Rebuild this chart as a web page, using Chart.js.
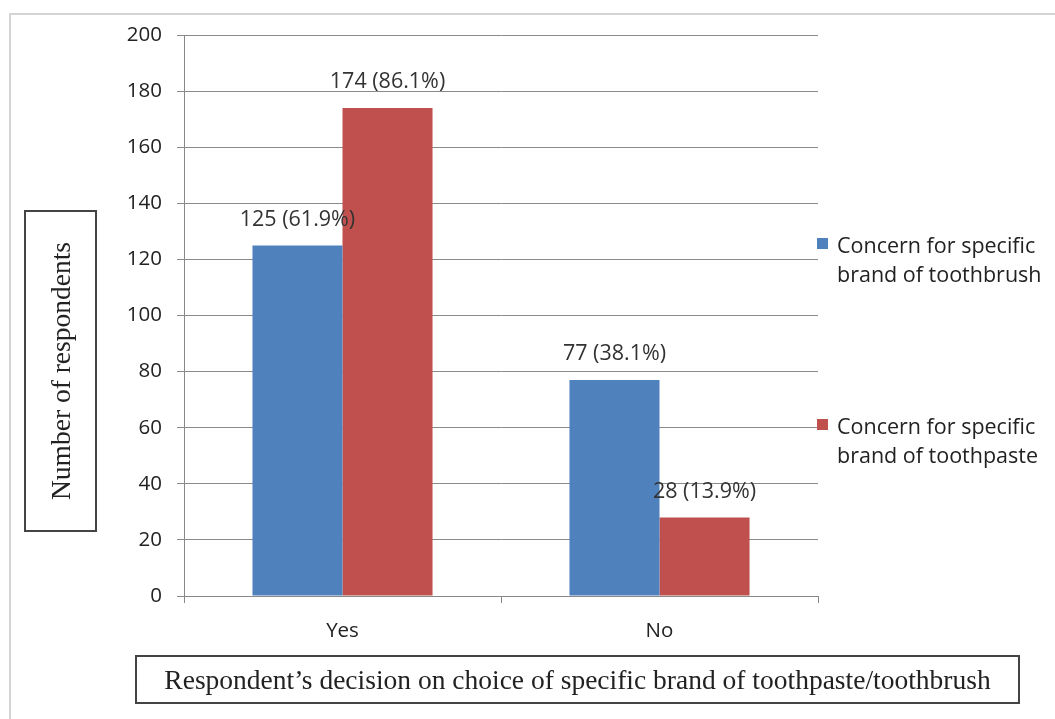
<!DOCTYPE html>
<html>
<head>
<meta charset="utf-8">
<script src="https://cdn.jsdelivr.net/npm/chart.js@4/dist/chart.umd.min.js"></script>
<style>
  html, body { margin: 0; padding: 0; background: #fff; }
  #wrap { position: relative; width: 1055px; height: 719px; overflow: hidden; }
  #frame { position: absolute; left: 9px; top: 13px; width: 1100px; height: 800px; border-left: 2px solid #d4d4d4; border-top: 2px solid #d4d4d4; box-sizing: border-box; }
  canvas { position: absolute; left: 0; top: 0; }
  .ybox { position: absolute; left: 24px; top: 210px; width: 73px; height: 322px; border: 2px solid #444; box-sizing: border-box; }
  .ybox span { position: absolute; left: 50%; top: 50%; transform: translate(-50%, -50%) rotate(-90deg); white-space: nowrap; font-family: "Liberation Serif", "DejaVu Serif", serif; font-size: 27.5px; color: #222; }
  .xbox { position: absolute; left: 135px; top: 655px; width: 885px; height: 49px; border: 2px solid #444; box-sizing: border-box; display: flex; align-items: center; justify-content: center; font-family: "Liberation Serif", "DejaVu Serif", serif; font-size: 27.5px; color: #222; }
  .leg { position: absolute; left: 817px; font-family: "Open Sans", "Liberation Sans", sans-serif; font-size: 21.5px; line-height: 29px; color: #222; white-space: nowrap; }
  .leg i { position: absolute; left: 0; top: 8px; width: 11px; height: 11px; }
  .leg div { margin-left: 20px; }
</style>
</head>
<body>
<div id="wrap">
  <div id="frame"></div>
  <canvas id="c" width="1055" height="719"></canvas>
  <div class="ybox"><span>Number of respondents</span></div>
  <div class="xbox">Respondent’s decision on choice of specific brand of toothpaste/toothbrush</div>
  <div class="leg" style="top:230px"><i style="background:#4F81BD"></i><div>Concern for specific<br>brand of toothbrush</div></div>
  <div class="leg" style="top:411px"><i style="background:#C0504D"></i><div>Concern for specific<br>brand of toothpaste</div></div>
</div>
<script>
const categories = ["Yes", "No"];
const toothbrushValues = [125, 77];
const toothpasteValues = [174, 28];
const toothbrushPct = ["61.9%", "38.1%"];
const toothpastePct = ["86.1%", "13.9%"];
const seriesNames = ["Concern for specific brand of toothbrush", "Concern for specific brand of toothpaste"];
const yTicks = [0, 20, 40, 60, 80, 100, 120, 140, 160, 180, 200];

const labelPlugin = {
  id: 'barLabels',
  afterDatasetsDraw(chart) {
    const ctx = chart.ctx;
    const pcts = [toothbrushPct, toothpastePct];
    ctx.save();
    ctx.font = '21.5px "Open Sans", "Liberation Sans", sans-serif';
    ctx.fillStyle = '#333';
    ctx.textAlign = 'center';
    ctx.textBaseline = 'middle';
    chart.data.datasets.forEach((ds, di) => {
      chart.getDatasetMeta(di).data.forEach((bar, i) => {
        ctx.fillText(ds.data[i] + ' (' + pcts[di][i] + ')', bar.x, bar.y - 26);
      });
    });
    ctx.restore();
  }
};

new Chart(document.getElementById('c'), {
  type: 'bar',
  data: {
    labels: categories,
    datasets: [
      { label: seriesNames[0], data: toothbrushValues, backgroundColor: '#4F81BD', barPercentage: 1, categoryPercentage: 0.568 },
      { label: seriesNames[1], data: toothpasteValues, backgroundColor: '#C0504D', barPercentage: 1, categoryPercentage: 0.568 }
    ]
  },
  options: {
    responsive: false,
    animation: false,
    devicePixelRatio: 1,
    layout: { padding: { left: 0, right: 237, top: 35, bottom: 0 } },
    plugins: { legend: { display: false }, tooltip: { enabled: false } },
    scales: {
      x: {
        grid: { display: true, drawOnChartArea: false, drawTicks: true, tickLength: 7, offset: true, color: '#888' },
        border: { display: true, color: '#888', width: 1 },
        ticks: { font: { family: '"Open Sans", "Liberation Sans", sans-serif', size: 20.5 }, color: '#222', padding: 16 },
        afterFit(s) { s.height = 123; }
      },
      y: {
        min: 0, max: 200,
        afterBuildTicks(s) { s.ticks = yTicks.map(v => ({ value: v })); },
        grid: { color: '#8a8a8a', lineWidth: 1, drawTicks: true, tickLength: 7 },
        border: { display: true, color: '#888', width: 1 },
        ticks: { font: { family: '"Open Sans", "Liberation Sans", sans-serif', size: 20.5 }, color: '#222', padding: 15 },
        afterFit(s) { s.width = 184; }
      }
    }
  },
  plugins: [labelPlugin]
});
</script>
</body>
</html>
